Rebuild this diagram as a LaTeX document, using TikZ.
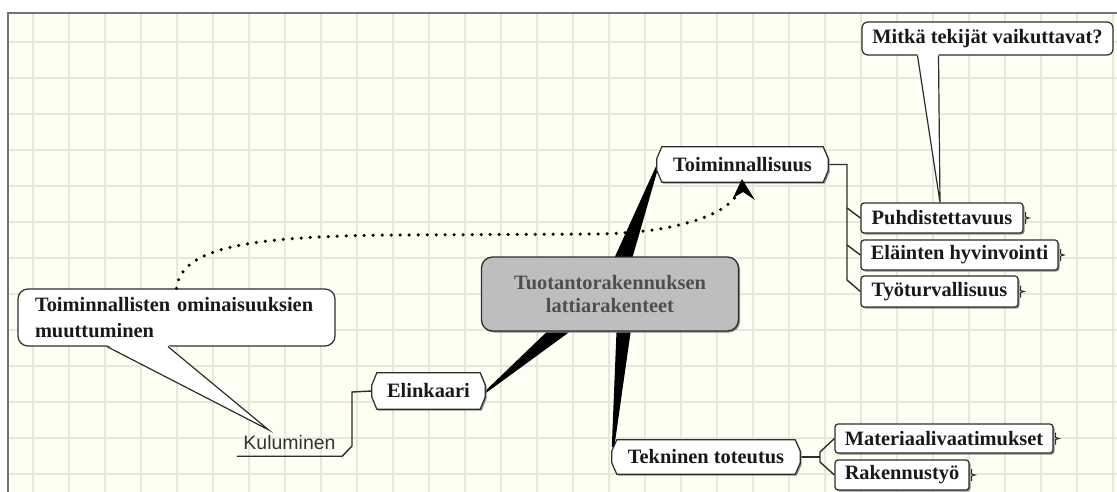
\documentclass[tikz,border=0pt]{standalone}
\usepackage{fontspec}
\setmainfont{Liberation Serif}
\setsansfont{Liberation Sans}
\usetikzlibrary{shadows}
\definecolor{paper}{RGB}{254,254,242}
\definecolor{gridc}{RGB}{231,231,218}
\definecolor{framec}{RGB}{115,115,115}
\definecolor{edgec}{RGB}{45,45,45}
\definecolor{shadc}{RGB}{140,140,140}
\definecolor{centfill}{RGB}{190,190,190}
\definecolor{centtext}{RGB}{78,78,78}
\pgfdeclarelayer{gridlayer}
\pgfdeclarelayer{shapelayer}
\pgfsetlayers{gridlayer,shapelayer,main}
\newcommand\chamfpath[1]{([xshift=5pt]#1.north west) -- ([xshift=-5pt]#1.north east) -- ([yshift=6pt]#1.east) -- ([yshift=-6pt]#1.east) -- ([xshift=-5pt]#1.south east) -- ([xshift=5pt]#1.south west) -- ([yshift=-6pt]#1.west) -- ([yshift=6pt]#1.west) -- cycle}
\newcommand\chamfbox[1]{%
  \fill[shadc, transform canvas={xshift=1.5pt,yshift=-1.5pt}] \chamfpath{#1};
  \filldraw[fill=white, draw=edgec, line width=1.2pt] \chamfpath{#1};}
\newcommand\rtick[1]{\draw[edgec, line width=1pt] ([xshift=2pt,yshift=6pt]#1.east) -- ([xshift=2pt,yshift=1pt]#1.east) -- ([xshift=5.5pt]#1.east) -- ([xshift=2pt,yshift=-1pt]#1.east) -- ([xshift=2pt,yshift=-6pt]#1.east);}
\tikzset{
  bnode/.style={font=\fontsize{20.4}{24}\selectfont\bfseries, text=black!90, inner sep=0pt, align=center},
  chnode/.style={bnode},
  leaf/.style={bnode, draw=edgec, line width=1.2pt, fill=white, rounded corners=3pt,
    drop shadow={shadow xshift=1.5pt, shadow yshift=-1.5pt, fill=shadc, opacity=1}},
  callout/.style={bnode, draw=edgec, line width=1.2pt, fill=white},
  central/.style={font=\fontsize{20.4}{23}\selectfont\bfseries, text=centtext, inner sep=0pt, align=center,
    draw=edgec, line width=1.3pt, fill=centfill, rounded corners=11pt,
    drop shadow={shadow xshift=1.5pt, shadow yshift=-1.5pt, fill=shadc, opacity=1}},
  kul/.style={font=\fontsize{19.5}{22}\sffamily, text=black!80, inner sep=0pt},
  conn/.style={draw=edgec, line width=1.4pt},
  branch/.style={fill=black},
  dotline/.style={line width=3.5pt, line cap=round, dash pattern=on 0pt off 9pt},
}
\begin{document}
\begin{tikzpicture}[x=1pt,y=-1pt]
\useasboundingbox (0,0) rectangle (1117,492);
\begin{pgfonlayer}{gridlayer}
\fill[white] (0,0) rectangle (1117,492);
\fill[paper] (8,13) rectangle (1117,492);
\foreach \i in {0,...,30} \draw[gridc, line width=1.2pt] ({33+36*\i},13) -- ({33+36*\i},492);
\foreach \j in {0,...,12} \draw[gridc, line width=1.2pt] (8,{42+36*\j}) -- (1117,{42+36*\j});
\draw[framec, line width=1.4pt] (8,492) -- (8,13) -- (1117,13);
\end{pgfonlayer}

% nodes
\node[central, minimum width=257pt, minimum height=74pt] (cent) at (610,294) {Tuotantorakennuksen\\lattiarakenteet};
\node[chnode, minimum width=171pt, minimum height=35pt] (toim) at (742.5,164.5) {Toiminnallisuus};
\node[chnode, minimum width=113pt, minimum height=36pt] (elink) at (428.5,391) {Elinkaari};
\node[chnode, minimum width=188pt, minimum height=34pt] (tekn) at (706,457) {Tekninen toteutus};
\node[leaf, minimum width=162pt, minimum height=30pt] (puhd) at (942,218) {Puhdistettavuus};
\node[leaf, minimum width=197pt, minimum height=30pt] (elain) at (959.5,255) {Eläinten hyvinvointi};
\node[leaf, minimum width=157pt, minimum height=31pt] (tyot) at (939.5,291.5) {Työturvallisuus};
\node[leaf, minimum width=218pt, minimum height=29pt] (mater) at (944,438.5) {Materiaalivaatimukset};
\node[leaf, minimum width=134pt, minimum height=30pt] (raken) at (902,475) {Rakennustyö};
\node[callout, rounded corners=6pt, minimum width=251pt, minimum height=33pt] (mitka) at (987.5,38.5) {Mitkä tekijät vaikuttavat?};
\node[callout, rounded corners=10pt, minimum height=57pt, text width=283pt, inner xsep=17pt, align=left,
  font=\fontsize{20.4}{26}\selectfont\bfseries] (tcall) at (176.5,317.5) {Toiminnallisten ominaisuuksien\\muuttuminen};
\node[kul, minimum width=105pt, minimum height=26pt] (kulum) at (289.5,443) {Kuluminen};

\begin{pgfonlayer}{shapelayer}
% tapered branches
\fill[branch] (toim.west) -- ([xshift=1.5pt,yshift=-3pt]toim.west) -- ([xshift=12pt]cent.center) -- ([xshift=-12pt]cent.center) -- cycle;
\fill[branch] ([yshift=10pt]tekn.west) -- ([xshift=2.5pt,yshift=10pt]tekn.west) -- ([xshift=26pt]cent.center) -- ([xshift=8pt]cent.center) -- cycle;
\fill[branch] (elink.east) -- ([yshift=-2.5pt]elink.east) -- ([xshift=-3pt,yshift=-10.5pt]cent.center) -- ([xshift=-17pt,yshift=6.5pt]cent.center) -- cycle;
% connectors
\draw[conn] (toim.east) -- (847,164.5) -- (847,280) -- (tyot.west);
\draw[conn] (847,208) -- (puhd.west);
\draw[conn] (847,245) -- (elain.west);
\draw[conn, line width=2.2pt] (tekn.east) -- (820,457);
\draw[conn] (mater.west) -- (820,452) -- (820,462) -- (raken.west);
\draw[conn] (kulum.south west) -- (kulum.south east) -- (352,446) -- (352,392) -- (elink.west);
% chamfered boxes
\chamfbox{toim}
\chamfbox{elink}
\chamfbox{tekn}
\end{pgfonlayer}

% right ticks
\rtick{puhd}
\rtick{elain}
\rtick{tyot}
\rtick{mater}
\rtick{raken}

% callout tails
\fill[white] ([xshift=-70pt,yshift=1.6pt]mitka.south) -- ([xshift=-2pt]puhd.north) -- ([xshift=-49pt,yshift=1.6pt]mitka.south) -- cycle;
\draw[edgec, line width=1.2pt] ([xshift=-70pt]mitka.south) -- ([xshift=-2pt]puhd.north) -- ([xshift=-49pt]mitka.south);
\fill[white] ([xshift=-69.5pt,yshift=1.6pt]tcall.south) -- ([xshift=-21pt]kulum.north) -- ([xshift=-8.5pt,yshift=1.6pt]tcall.south) -- cycle;
\draw[edgec, line width=1.2pt] ([xshift=-69.5pt]tcall.south) -- ([xshift=-21pt]kulum.north) -- ([xshift=-8.5pt]tcall.south);

% dotted arrow
\coordinate (atip) at (742,179);
\draw[dotline] (tcall.north) .. controls (181,247) and (250,236) .. (400,235) -- (600,234) .. controls (682,232) and (724,214) .. (737,195);
\fill (atip) -- (755,200) -- (743,192) -- (733,198) -- cycle;
\end{tikzpicture}
\end{document}
